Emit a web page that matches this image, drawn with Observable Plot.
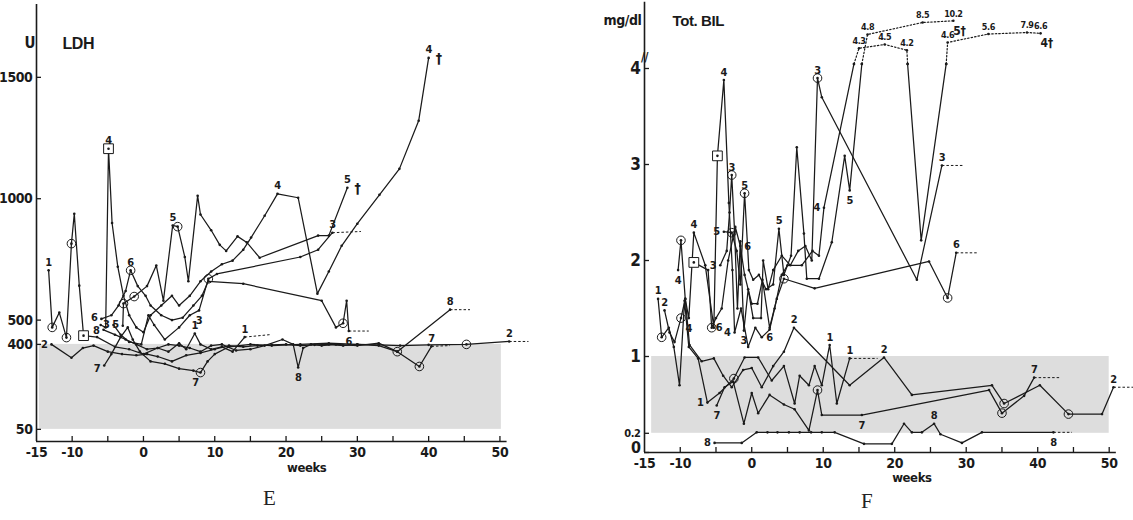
<!DOCTYPE html>
<html><head><meta charset="utf-8">
<script src="https://cdn.jsdelivr.net/npm/d3@7"></script>
<script src="https://cdn.jsdelivr.net/npm/@observablehq/plot@0.6"></script>
<style>
body{margin:0;background:#fff}
#wrap{position:relative;width:1133px;height:520px;background:#fff;overflow:hidden}
#left{position:absolute;left:0;top:0}
#right{position:absolute;left:566px;top:0}
.cap{position:absolute;font-family:"Liberation Serif","DejaVu Serif",serif;font-size:21px;color:#222}
</style></head>
<body><div id="wrap"><div id="left"></div><div id="right"></div>
<div class="cap" id="capE" style="left:263px;top:486px">E</div>
<div class="cap" id="capF" style="left:861px;top:489px">F</div></div>
<script>
// ---------- LDH (panel E) : [week, U] ----------
const ldhP1 = [[-13.3,705],[-12.8,470],[-11.8,531],[-10.8,428],[-10.1,815],[-9.7,938],[-9.0,642],[-8.4,436],[-6.5,430],[-4,390],[-2,380],[0,360],[2,385],[3.5,370],[5,405],[6,380],[7.2,445],[8,400],[9.5,380],[11,390],[12.5,370],[14.2,430]];
const ldhP2 = [[-12.9,400],[-10.1,345],[-8.5,385],[-7,395],[-5,370],[-3,360],[-1,355],[0.5,360],[2,350],[4,330],[6,355],[8,365],[10,380],[12,395],[14,390],[16,395],[18,398],[20,400],[22,395],[24,398],[26,400],[28,395],[30,400],[33,398],[36,395],[40,398],[45.3,400],[51.3,412]];
const ldhP3 = [[-4.2,480],[-3.2,440],[-2,410],[-0.3,400],[0.7,520],[1.5,480],[3,420],[5,470],[6.5,520],[7.8,540],[9.1,670],[10.3,690],[22,760],[24.5,790],[26.5,860]];
const ldhP4 = [[-6,480],[-5.3,470],[-4.9,1206],[-4.4,900],[-3.6,720],[-2.8,600],[-2,520],[-1,470],[0,450],[1,520],[2.5,560],[4,600],[5,560],[6.5,600],[8,660],[9.5,700],[11,730],[12.5,745],[14,790],[15.1,840],[17,930],[18.8,1020],[21.7,1004],[24.4,609],[26,700],[27.8,806],[30,897],[33.1,1016],[35.9,1123],[38.6,1321],[40,1580]];
const ldhP5 = [[-2.9,477],[-2.8,568],[-1.3,597],[0.5,640],[1.8,725],[2.8,580],[4.1,890],[4.8,885],[5.8,760],[6.3,660],[7.6,1012],[8,935],[9.5,870],[10.7,810],[11.6,785],[13.2,845],[14.5,820],[16.3,757],[24.5,848],[26,848],[28.6,1045]];
const ldhP6 = [[-5.9,505],[-4.5,520],[-3.5,560],[-2.5,620],[-1.8,705],[-0.8,640],[0.3,600],[1,560],[2.5,520],[4,500],[5.5,510],[7,560],[8.2,600],[9.1,660],[14,650],[25,580],[27,470],[28,487],[28.5,580],[28.8,455]];
const ldhP7 = [[-5.5,313],[-4.5,360],[-3.2,430],[-2.2,470],[-1.5,420],[-0.5,370],[1,330],[3,320],[5,300],[7,292],[8,284],[9,330],[10,360],[12,390],[15,400],[18,395],[22,400],[26,405],[30,400],[33,395],[35.6,370],[38.7,309],[40.4,392]];
const ldhP8 = [[-5.6,460],[-4,440],[-2.5,420],[-1,400],[0.5,380],[2,385],[3.5,400],[5,395],[6.5,385],[8,370],[9.5,395],[11,400],[13,375],[15,380],[17,395],[19.5,420],[21,400],[21.7,305],[22.4,385],[23.5,400],[25,395],[27,400],[30,395],[33,405],[35.6,370],[43,543]];
const ldhCircles = [[-12.8,470],[-10.8,428],[-10.1,815],[-1.8,705],[-2.8,568],[-1.3,597],[4.8,885],[9.1,670],[8,284],[28,487],[35.6,370],[38.7,309],[45.3,400]];
const ldhSquares = [[-4.9,1206],[-8.4,436]];
const ldhAbove = [["1",-13.3,705],["4",-4.9,1206],["6",-1.8,705],["5",4.1,890],["1",7.2,445],["1",14.2,430],["4",18.8,1020],["4",40,1580],["5",28.6,1045],["3",26.5,860],["8",43,543],["7",40.4,392],["2",51.3,412]];
const ldhBelow = [["3",7.8,540],["7",7.3,284],["8",21.7,305],["6",28.8,455]];
const ldhLeft = [["2",-12.9,400],["6",-5.9,510],["3",-4.2,484],["5",-2.9,484],["8",-5.6,458],["7",-5.5,300]];
const ldhDashes = [[14.2,430,17.7,440],[26.5,860,30.5,865],[28.8,455,31.6,455],[43,543,45.8,543],[40.4,392,43,395],[51.3,412,54,412]];
const ldhDaggers = [[40,1580],[28.6,1045]];
const ldhBand = [[-14.6,50.2,50,400]];
const ldhYTicks = [50,400,500,1000,1500];
const ldhXTicks = [-10,-5,0,5,10,15,20,25,30,35,40,45,50];
const ldhXLabels = [-15,-10,0,10,20,30,40,50];

// ---------- Total bilirubin (panel F) : [week, mg/dl] ----------
const bilP1 = [[-13.1,1.6],[-12.6,1.2],[-11.6,1.3],[-10.9,1.1],[-10.1,0.7],[-9.4,1.58],[-8.8,1.1],[-7.5,0.98],[-6.2,0.52],[-4.5,0.62],[-2.5,0.77],[-1,0.99],[0.9,0.99],[2.8,0.75],[4.5,0.9],[6,0.51],[6.7,0.8],[8,0.7],[8.8,0.9],[9.8,0.7],[10.9,1.12],[11.9,0.51],[13.7,0.98]];
const bilP2 = [[-12.2,1.48],[-11.5,1.25],[-10.8,1.15],[-9.9,1.4],[-9.3,1.6],[-8.7,1.12],[-7,0.95],[-5.3,0.98],[-4,0.8],[-2.8,0.68],[-1.2,0.86],[0,0.88],[1.4,0.68],[3,0.9],[4.5,1.05],[5.9,1.3],[13.7,0.7],[18.5,0.99],[22.4,0.6],[33.6,0.7],[35.3,0.51],[40.3,0.7],[44.3,0.4],[49,0.4],[50.6,0.68]];
const bilP3 = [[-4.4,1.95],[-3.5,2.1],[-3.1,2.5],[-2.8,2.89],[-2.4,2.3],[-2,1.5],[-1.6,2.2],[-1.1,1.27],[-0.5,1.7],[0.2,1.4],[1.3,1.4],[1.6,2.0],[2.3,1.7],[3,1.9],[4.2,2.05],[5.4,1.95],[6.5,2.1],[7.5,2.15],[8.4,2.0],[9.2,3.9],[9.8,3.7],[23.1,1.8],[26.6,2.99]];
const bilP4 = [[-10.3,1.9],[-9.9,2.21],[-9.3,1.6],[-8.8,1.4],[-8.1,2.29],[-6.5,1.95],[-5.3,1.3],[-4.8,3.09],[-3.9,3.88],[-3.2,2.6],[-2.7,1.9],[-2.4,1.25],[-1.5,1.5],[-0.5,1.1],[0.5,1.3],[1.4,1.2],[2.5,1.28],[3.2,1.5],[4.2,1.85],[5,1.95],[7,1.95],[8.5,2.1],[9.4,2.05],[10.1,2.55],[14.3,4.05]];
const bilP4b = [[21.8,4.05],[23.7,2.21],[27.2,4.05]];
const bilP5 = [[-3.9,2.3],[-2.8,2.29],[-2.1,2.1],[-1.6,1.75],[-1,2.7],[-0.4,1.9],[0.2,1.8],[1,1.85],[2,1.7],[3,1.75],[3.8,2.33],[4.5,1.85],[5.5,2.05],[6.3,3.18],[7.3,2.28],[7.7,1.81],[9.4,1.81],[11.2,2.19],[13,3.09],[13.7,2.73],[15.4,4.05]];
const bilP6 = [[-8.1,1.98],[-6.1,1.9],[-5.6,1.3],[-5,1.4],[-4.2,1.5],[-3.3,2.0],[-2.3,2.35],[-1.6,2.15],[-1,1.85],[0,1.55],[0.8,1.55],[1.5,1.8],[2.5,1.3],[3.5,1.6],[4.5,1.81],[8.8,1.71],[24.8,1.99],[27.4,1.61],[28.6,2.08]];
const bilP7 = [[-4.9,0.49],[-3.8,0.68],[-2.6,0.74],[-1.1,0.3],[0,0.62],[0.9,0.41],[2.5,0.6],[4.5,0.5],[6,0.45],[8,0.23],[9.2,0.65],[9.8,0.39],[15.4,0.39],[33.2,0.65],[35,0.41],[38.1,0.59],[39.5,0.78]];
const bilP8 = [[-5.2,0.1],[-1.4,0.1],[0.7,0.21],[2.2,0.21],[3.6,0.21],[5.2,0.21],[6.7,0.21],[8.3,0.21],[9.8,0.21],[11.6,0.21],[15.7,0.09],[19.6,0.09],[21.3,0.3],[22.4,0.21],[23.8,0.21],[25.5,0.3],[26.4,0.19],[29.4,0.1],[32.2,0.21],[42.2,0.21]];
const bilTop4a = [[14.3,4.05],[15.0,4.3],[18.6,4.5],[21.7,4.2],[21.8,4.05]];
const bilTop4b = [[27.2,4.05],[27.4,4.6],[33.1,5.6],[38.5,7.9],[40.4,6.6]];
const bilTop5 = [[15.4,4.05],[16.2,4.8],[23.9,8.5],[28.2,10.2]];
const bilCircles = [[-12.6,1.2],[-9.9,1.4],[-9.9,2.21],[-5.6,1.3],[-2.8,2.89],[-2.8,2.29],[-1,2.7],[-2.5,0.77],[4.5,1.81],[9.2,3.9],[9.2,0.65],[27.4,1.61],[35.3,0.51],[35,0.41],[44.3,0.4]];
const bilSquares = [[-4.8,3.09],[-8.1,1.98]];
const bilAbove = [["1",-13.1,1.6],["2",-12.2,1.48],["4",-8.1,2.29],["4",-3.9,3.88],["3",-2.8,2.89],["5",-1,2.7],["5",3.8,2.33],["2",5.9,1.3],["3",9.2,3.9],["1",10.9,1.12],["1",13.7,0.98],["2",18.5,0.99],["3",26.6,2.99],["6",28.6,2.08],["7",39.5,0.78],["2",50.6,0.68],["8",25.5,0.3]];
const bilBelow = [["4",-10.3,1.9],["4",-8.8,1.4],["7",-4.9,0.49],["3",-1.1,1.27],["6",2.5,1.3],["5",13.7,2.73],["7",15.4,0.39],["8",42.2,0.21]];
const bilLeft = [["8",-5.2,0.1],["5",-3.9,2.3],["3",-4.4,1.95],["4",-2.4,1.25],["1",-6.2,0.52],["4",10.1,2.55]];
const bilRight = [["6",-5.6,1.3],["6",-1.6,2.15]];
const bilDashes = [[13.7,0.98,17.6,0.98],[26.6,2.99,29.6,2.99],[28.6,2.08,31.5,2.08],[39.5,0.78,43,0.78],[50.6,0.68,53.8,0.68],[42.2,0.21,44.8,0.21]];
const bilDaggers = [["5",28.2,10.2],["4",40.4,6.6]];
const bilBand = [[-14,50,0.2,1.0]];
const bilYTicks = [0,0.2,1,2,3,4];
const bilYLabelsBig = [1,2,3,4];
const bilYLabelZero = [0];
const bilYLabelsSmall = [0.2];
const bilXTicks = [-10,-5,0,5,10,15,20,25,30,35,40,45,50];
const bilXLabels = [-15,-10,0,10,20,30,40,50];
// broken axis: values above 4 are compressed into the strip above the break
const bilBreakDomain = [0, 4, 4.2, 4.6, 4.8, 5.6, 7.9, 8.5, 10.5, 12];
const bilBreakUnits  = [0, 4, 4.19, 4.271, 4.354, 4.359, 4.375, 4.479, 4.5, 4.69];

const FONT = '"Liberation Sans Narrow","DejaVu Sans Condensed","Liberation Sans",Arial,sans-serif';
const INK = "#1a1a1a";
const ident = v => v;
const bilBreak = d3.scaleLinear().domain(bilBreakDomain).range(bilBreakUnits);

function commonMarks(o) {
  const f = o.fy;
  const rows = (list) => list.flatMap(([p, pts]) => pts.map(([w, v]) => ({p, w, v: f(v)})));
  const solid = rows(o.series);
  const dotted = rows(o.dotted || []);
  const X = d => d[0], Y = d => f(d[1]);
  const lab = (extra) => Object.assign({x: d => d[1], y: d => f(d[2]), text: d => d[0], fontSize: 11, fontWeight: "bold", fill: INK}, extra);
  return [
    Plot.rect(o.band, {x1: d => d[0], x2: d => d[1], y1: d => f(d[2]), y2: d => f(d[3]), fill: "#dddddd"}),
    Plot.ruleX([-15], {y1: f(0), y2: f(o.yTop), stroke: INK, strokeWidth: 1.6}),
    Plot.ruleY([f(0)], {x1: -15, x2: 51, stroke: INK, strokeWidth: 1.6}),
    Plot.ruleX(o.xTicks, {x: d => d, y1: f(0), y2: f(0), insetTop: -5, stroke: INK, strokeWidth: 1.3}),
    Plot.ruleY(o.yTicks, {y: d => f(d), x1: -15, x2: -15, insetRight: -5, stroke: INK, strokeWidth: 1.3}),
    Plot.text(o.xLabels, {x: d => d, y: f(0), dy: 11, text: d => String(d), fontSize: 14, fontWeight: "bold", fill: INK}),
    Plot.text(["weeks"], {x: o.weeksX, y: f(0), dy: o.weeksDy, text: d => d, fontSize: 13, fontWeight: "bold", fill: INK}),
    Plot.line(solid, {x: "w", y: "v", z: "p", stroke: INK, strokeWidth: 1.25}),
    Plot.line(dotted, {x: "w", y: "v", z: "p", stroke: INK, strokeWidth: 1.2, strokeDasharray: "1.5,2"}),
    Plot.link(o.dashes, {x1: d => d[0], y1: d => f(d[1]), x2: d => d[2], y2: d => f(d[3]), stroke: INK, strokeWidth: 1, strokeDasharray: "2.5,2"}),
    Plot.dot(o.squares, {x: X, y: Y, symbol: "square", r: 5.5, stroke: INK, fill: "white", strokeWidth: 1}),
    Plot.dot(o.circles, {x: X, y: Y, r: 4.3, stroke: INK, fill: "none", strokeWidth: 1}),
    Plot.dot(solid.concat(dotted), {x: "w", y: "v", r: 1.3, fill: INK}),
    Plot.text(o.above, lab({dy: -8})),
    Plot.text(o.below, lab({dy: 10})),
    Plot.text(o.left, lab({dx: -4, textAnchor: "end"})),
    Plot.text(o.right || [], lab({dx: 4, textAnchor: "start"}))
  ];
}

const left = Plot.plot({
  width: 566, height: 480, marginLeft: 36, marginRight: 52, marginTop: 4, marginBottom: 39,
  style: {fontFamily: FONT, background: "white", overflow: "visible", letterSpacing: "-0.4px"},
  x: {domain: [-15, 52], range: [36, 513.7], axis: null},
  y: {domain: [0, 1800], range: [441, 4], axis: null},
  marks: [
    ...commonMarks({
      fy: ident,
      series: [["1",ldhP1],["2",ldhP2],["3",ldhP3],["4",ldhP4],["5",ldhP5],["6",ldhP6],["7",ldhP7],["8",ldhP8]],
      band: ldhBand, yTop: 1800, xTicks: ldhXTicks, yTicks: ldhYTicks, xLabels: ldhXLabels,
      weeksX: 22.9, weeksDy: 26, dashes: ldhDashes, squares: ldhSquares, circles: ldhCircles,
      above: ldhAbove, below: ldhBelow, left: ldhLeft
    }),
    Plot.text(ldhYTicks, {x: -15, y: d => d, dx: -4, textAnchor: "end", text: d => String(d), fontSize: 14, fontWeight: "bold", fill: INK}),
    Plot.text(ldhDaggers, {x: d => d[0], y: d => d[1], text: () => "\u2020", dx: 10, dy: 1, fontSize: 14, fontWeight: "bold", fill: INK}),
    Plot.text(["U"], {frameAnchor: "top-left", dx: -12, dy: 33, text: d => d, fontSize: 15, fontWeight: "bold", fill: INK}),
    Plot.text(["LDH"], {frameAnchor: "top-left", dx: 26, dy: 33, textAnchor: "start", text: d => d, fontSize: 16, fontWeight: "bold", fill: INK, fontFamily: "Liberation Sans, Arial, sans-serif"})
  ]
});
document.getElementById("left").append(left);

const topPts = bilTop4a.concat(bilTop4b, bilTop5).filter(d => d[1] > 4.1);
const right = Plot.plot({
  width: 567, height: 480, marginLeft: 78, marginRight: 10, marginTop: 2, marginBottom: 28,
  style: {fontFamily: FONT, background: "white", overflow: "visible", letterSpacing: "-0.4px"},
  x: {domain: [-15, 52], range: [78, 557], axis: null},
  y: {domain: [0, 4.6875], range: [452, 2], axis: null},
  marks: [
    ...commonMarks({
      fy: bilBreak,
      series: [["1",bilP1],["2",bilP2],["3",bilP3],["4",bilP4],["4b",bilP4b],["5",bilP5],["6",bilP6],["7",bilP7],["8",bilP8]],
      dotted: [["4a",bilTop4a],["4c",bilTop4b],["5",bilTop5]],
      band: bilBand, yTop: 12, xTicks: bilXTicks, yTicks: bilYTicks, xLabels: bilXLabels,
      weeksX: 22.4, weeksDy: 25, dashes: bilDashes, squares: bilSquares, circles: bilCircles,
      above: bilAbove, below: bilBelow, left: bilLeft, right: bilRight
    }),
    Plot.text(bilYLabelsBig, {x: -15, y: d => bilBreak(d), dx: -4, textAnchor: "end", text: d => String(d), fontSize: 17, fontWeight: "bold", fill: INK}),
    Plot.text(bilYLabelZero, {x: -15, y: d => bilBreak(d), dx: -4, dy: -5, textAnchor: "end", text: d => String(d), fontSize: 16, fontWeight: "bold", fill: INK}),
    Plot.text(bilYLabelsSmall, {x: -15, y: d => bilBreak(d), dx: -4, textAnchor: "end", text: d => String(d), fontSize: 11, fontWeight: "bold", fill: INK}),
    Plot.text(topPts, {x: d => d[0], y: d => bilBreak(d[1]), text: d => d3.format(".1f")(d[1]), dy: -7, fontSize: 9, fontWeight: "bold", fill: INK}),
    Plot.text(bilDaggers, {x: d => d[1], y: d => bilBreak(d[2]), text: d => d[0] + "\u2020", dx: 6, dy: 10, fontSize: 12, fontWeight: "bold", fill: INK}),
    Plot.text(["//"], {x: -15, y: bilBreak(4.12), text: d => d, fontSize: 12, fontWeight: "bold", fill: INK}),
    Plot.text(["mg/dl"], {frameAnchor: "top-left", dx: -3, dy: 13, textAnchor: "end", text: d => d, fontSize: 14, fontWeight: "bold", fill: INK}),
    Plot.text(["Tot. BIL"], {frameAnchor: "top-left", dx: 28, dy: 13, textAnchor: "start", text: d => d, fontSize: 15, fontWeight: "bold", fill: INK, fontFamily: "Liberation Sans, Arial, sans-serif"})
  ]
});
document.getElementById("right").append(right);
</script></body></html>
